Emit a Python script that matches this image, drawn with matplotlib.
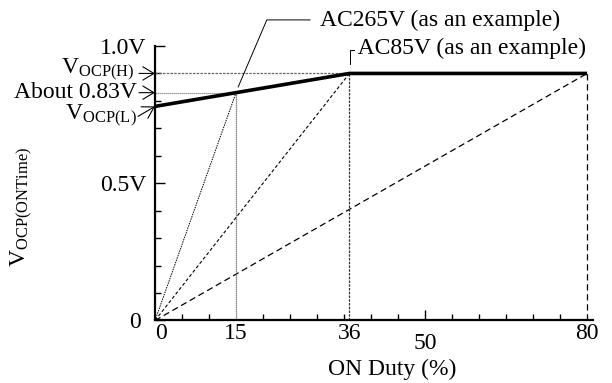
import numpy as np
import matplotlib
matplotlib.use("Agg")
import matplotlib.pyplot as plt
from matplotlib.transforms import ScaledTranslation

plt.rcParams['font.family'] = ['Liberation Serif', 'DejaVu Serif']
plt.rcParams['mathtext.fontset'] = 'custom'
plt.rcParams['mathtext.rm'] = 'Liberation Serif'
plt.rcParams['mathtext.it'] = 'Liberation Serif:italic'

# values
duty_low = 15        # AC265V knee (%)
duty_high = 36       # AC85V knee (%)
duty_max = 80        # max ON duty (%)
v_ocp_l = 0.78
v_about = 0.83
v_ocp_h = 0.90

curve_x = [0, duty_high, duty_max]
curve_y = [v_ocp_l, v_ocp_h, v_ocp_h]

xticks = [0, duty_low, duty_high, 50, duty_max]
xtick_labels = ['0', '15', '36', '50', '80']
yticks = [0, 0.5, 1.0]
ytick_labels = ['0', '0.5V', '1.0V']

FS = 17

fig = plt.figure(figsize=(6.12, 3.83), dpi=100)
ax = fig.add_axes([0.2533, 0.1632, 0.7157, 0.7167])
ax.set_xlim(0, 81.1)
ax.set_ylim(0, 1.0)

# guide lines from origin
ax.plot([0, duty_low], [0, v_about], color='k', lw=0.7, ls=(0, (1.5, 1)))
ax.plot([0, duty_high], [0, v_ocp_h], color='k', lw=0.8, ls=(0, (3, 2)))
ax.plot([0, duty_max], [0, v_ocp_h], color='k', lw=0.9, ls=(0, (5, 3)))

# verticals / horizontals
ax.plot([duty_low, duty_low], [0, v_about], color='0.4', lw=0.9, ls=(0, (1, 0.6)))
ax.plot([duty_high, duty_high], [0, v_ocp_h], color='0.2', lw=0.9, ls=(0, (2, 1)))
ax.plot([duty_max, duty_max], [0, v_ocp_h], color='k', lw=0.9, ls=(0, (5, 3)))
ax.plot([0, duty_high], [v_ocp_h, v_ocp_h], color='0.4', lw=0.9, ls=(0, (2, 1)))
ax.plot([0, duty_low], [v_about, v_about], color='0.5', lw=0.9, ls=(0, (1, 0.6)))

# V_OCP curve
ax.plot(curve_x, curve_y, color='k', lw=2.6, solid_capstyle='butt')

# axes styling
for s in ['top', 'right']:
    ax.spines[s].set_visible(False)
for s in ['left', 'bottom']:
    ax.spines[s].set_linewidth(1.6)

ax.set_xticks(xticks)
ax.set_xticklabels(xtick_labels, fontsize=FS)
ax.set_xticks(np.arange(5, 80, 5), minor=True)
ax.set_yticks(yticks)
ax.set_yticklabels(ytick_labels, fontsize=FS)
ax.set_yticks(np.arange(0.1, 1.0, 0.1), minor=True)

ax.tick_params(axis='x', which='major', direction='in', length=7.5, width=1, pad=2)
ax.tick_params(axis='x', which='minor', direction='in', length=4, width=1)
ax.tick_params(axis='y', which='major', direction='in', length=7.5, width=1, pad=6)
ax.tick_params(axis='y', which='minor', direction='in', length=4.5, width=1)

for t, v in zip(ax.xaxis.get_major_ticks(), xticks):
    if v == 50:
        t.set_pad(9)
for t, v in zip(ax.xaxis.get_major_ticks(), xticks):
    if v != 50:
        t.tick1line.set_markersize(0)
ax.yaxis.get_major_ticks()[0].set_pad(10)

# nudge the x "0" label a bit to the right like the original
lbl0 = ax.get_xticklabels()[0]
lbl0.set_transform(lbl0.get_transform() + ScaledTranslation(4 / 72, 0, fig.dpi_scale_trans))

# axis labels
ax.text(0.541, -0.177, 'ON Duty (%)', transform=ax.transAxes,
        ha='center', va='center', fontsize=FS)
ax.text(-0.304, 0.413, r'$\mathrm{V}_{\mathrm{OCP(ONTime)}}$', transform=ax.transAxes,
        ha='center', va='center', rotation=90, fontsize=FS)

# left side markers
arrow = dict(arrowstyle='->,head_length=0.5,head_width=0.3', lw=0.8, color='k',
             shrinkA=0, shrinkB=0, mutation_scale=16)
ax.annotate('', xy=(0, v_ocp_h), xytext=(-16, 0), textcoords='offset pixels',
            arrowprops=arrow, annotation_clip=False)
ax.annotate('', xy=(0, v_about), xytext=(-16, 0), textcoords='offset pixels',
            arrowprops=arrow, annotation_clip=False)
ax.annotate('', xy=(0, v_ocp_l), xytext=(-17, -10), textcoords='offset pixels',
            arrowprops=arrow, annotation_clip=False)

ax.annotate(r'$\mathrm{V}_{\mathrm{OCP(H)}}$', xy=(0, v_ocp_h), xytext=(-20, -1),
            textcoords='offset pixels', ha='right', va='baseline', fontsize=FS,
            annotation_clip=False)
ax.annotate('About 0.83V', xy=(0, v_about), xytext=(-18, 0),
            textcoords='offset pixels', ha='right', va='center', fontsize=FS,
            annotation_clip=False)
ax.annotate(r'$\mathrm{V}_{\mathrm{OCP(L)}}$', xy=(0, v_ocp_l), xytext=(-18, -14),
            textcoords='offset pixels', ha='right', va='baseline', fontsize=FS,
            annotation_clip=False)

# AC265V callout
ax.plot([15.4, 20.7, 28.7], [0.851, 1.095, 1.095], color='k', lw=0.7, clip_on=False)
ax.text(30.5, 1.095, 'AC265V (as an example)', ha='left', va='center',
        fontsize=FS, clip_on=False)

# AC85V callout
ax.plot([36.1, 36.1, 36.9], [0.934, 0.985, 0.985], color='k', lw=0.7, clip_on=False)
ax.text(36.7, 0.993, ' AC85V (as an example)', ha='left', va='center',
        fontsize=FS, clip_on=False)

fig.savefig('out.png', dpi=100)
